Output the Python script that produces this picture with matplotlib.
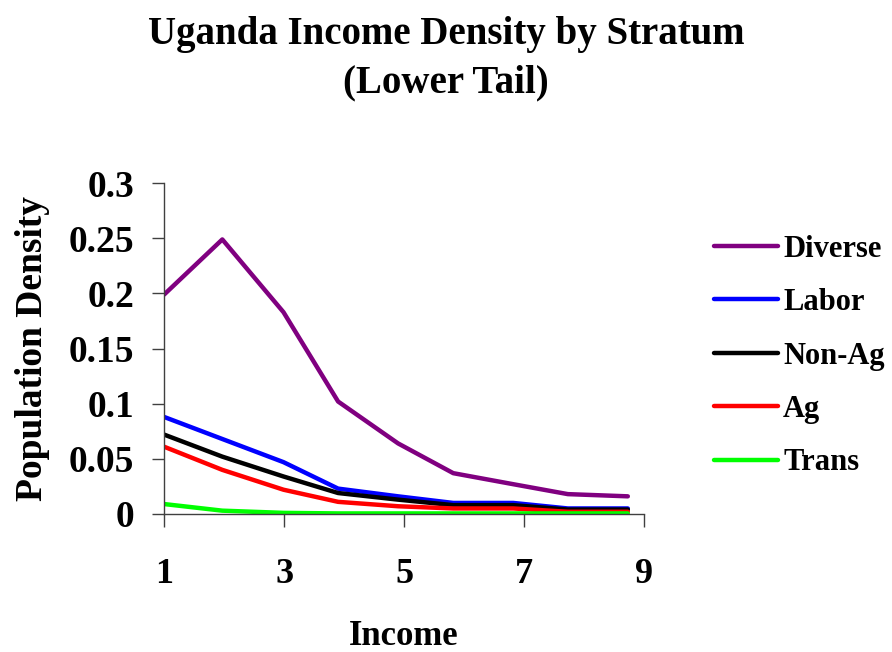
import matplotlib.pyplot as plt

# income level of each point
income = [1.0, 1.97, 2.99, 3.9, 4.9, 5.82, 6.82, 7.73, 8.73]

diverse = [0.199, 0.249, 0.183, 0.102, 0.064, 0.037, 0.027, 0.018, 0.016]
labor = [0.088, 0.068, 0.047, 0.023, 0.016, 0.010, 0.010, 0.005, 0.005]
non_ag = [0.072, 0.052, 0.034, 0.019, 0.013, 0.008, 0.008, 0.004, 0.004]
ag = [0.061, 0.040, 0.022, 0.011, 0.007, 0.005, 0.005, 0.002, 0.002]
trans = [0.009, 0.003, 0.001, 0.0005, 0.0005, 0.0005, 0.0005, 0.0005, 0.0005]

series_names = ["Diverse", "Labor", "Non-Ag", "Ag", "Trans"]
series_colors = ["#800080", "#0000ff", "#000000", "#ff0000", "#00ff00"]

x_ticks = [1, 3, 5, 7, 9]
y_ticks = [0, 0.05, 0.1, 0.15, 0.2, 0.25, 0.3]
y_tick_labels = ["0", "0.05", "0.1", "0.15", "0.2", "0.25", "0.3"]

plt.rcParams['font.family'] = ['Liberation Serif', 'DejaVu Serif']
plt.rcParams['font.weight'] = 'bold'

fig = plt.figure(figsize=(8.92, 6.52), dpi=100)
ax = fig.add_axes([0.184, 0.2117, 0.538, 0.5073])

all_series = [diverse, labor, non_ag, ag, trans]
for values, name, color in zip(all_series, series_names, series_colors):
    ax.plot(income, values, color=color, lw=3.2, label=name, solid_capstyle='round')

ax.set_xlim(1, 9)
ax.set_ylim(0, 0.3)
ax.set_xticks(x_ticks)
ax.set_xticklabels([str(t) for t in x_ticks])
ax.set_yticks(y_ticks)
ax.set_yticklabels(y_tick_labels)

for side in ['top', 'right']:
    ax.spines[side].set_visible(False)
for side in ['left', 'bottom']:
    ax.spines[side].set_color('#404040')
    ax.spines[side].set_linewidth(1)

ax.tick_params(axis='x', length=9.4, width=1, color='#404040', pad=22, labelsize=26)
ax.tick_params(axis='y', length=8.6, width=1, color='#404040', pad=13, labelsize=27)

ax.set_xlabel("Income", fontsize=25, fontweight='bold', labelpad=21)
ax.set_ylabel("Population Density", fontsize=27, fontweight='bold', labelpad=13)

fig.text(0.5, 0.975, "Uganda Income Density by Stratum\n(Lower Tail)", fontsize=28,
         fontweight='bold', ha='center', va='top', linespacing=1.4)

fig.legend(loc='upper left', bbox_to_anchor=(0.8004, 0.64), frameon=False,
           fontsize=22, handlelength=2.1, handletextpad=0.16, labelspacing=0.8,
           borderaxespad=0, borderpad=0)

fig.savefig("out.png", dpi=100)
